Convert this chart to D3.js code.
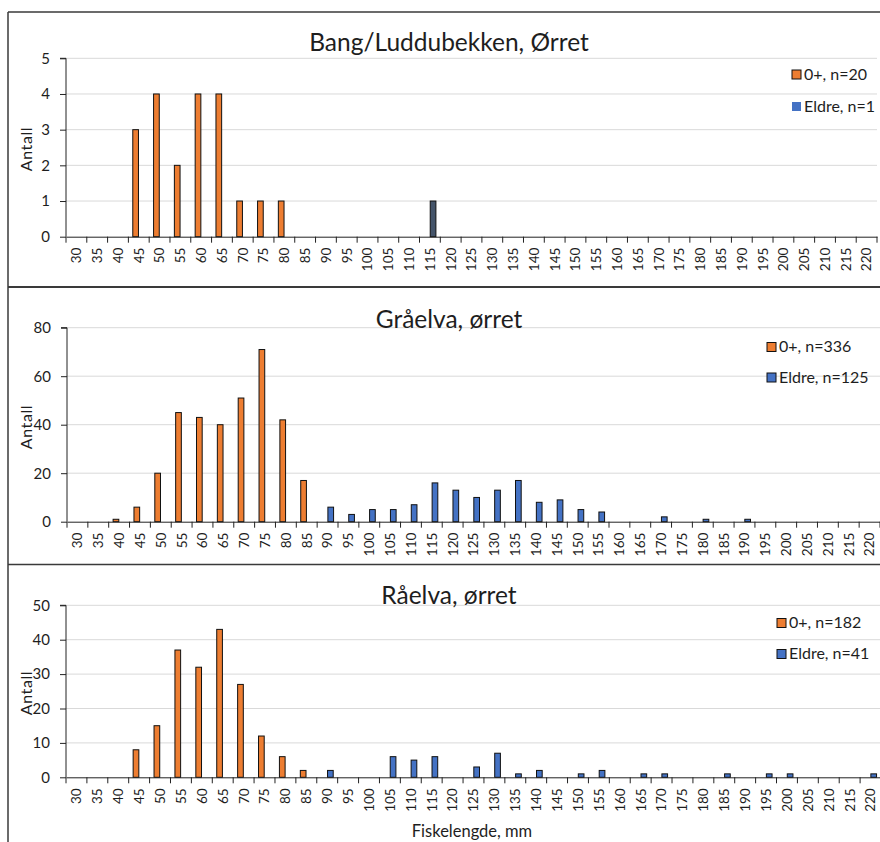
<!DOCTYPE html>
<html>
<head>
<meta charset="utf-8">
<script src="https://cdn.jsdelivr.net/npm/d3@7"></script>
<style>
  body { margin: 0; background: #fff; }
  svg { display: block; font-family: Lato, "Open Sans", "Liberation Sans", sans-serif; }
</style>
</head>
<body>
<svg id="chart" width="880" height="842"></svg>
<script>
// Length classes (mm) used as x categories in every panel
const lengthClasses = ["30","35","40","45","50","55","60","65","70","75","80","85","90","95",
  "100","105","110","115","120","125","130","135","140","145","150","155","160","165","170",
  "175","180","185","190","195","200","205","210","215","220"];
const seriesNames = ["0+", "Eldre"];

// Bang/Luddubekken
const bangYoung = [0,0,0,3,4,2,4,4,1,1,1,0,0,0,0,0,0,0,0,0,0,0,0,0,0,0,0,0,0,0,0,0,0,0,0,0,0,0,0];
const bangOlder = [0,0,0,0,0,0,0,0,0,0,0,0,0,0,0,0,0,1,0,0,0,0,0,0,0,0,0,0,0,0,0,0,0,0,0,0,0,0,0];
const bangLegend = ["0+, n=20", "Eldre, n=1"];
const bangTicks = [0,1,2,3,4,5];

// Gråelva
const graYoung = [0,0,1,6,20,45,43,40,51,71,42,17,0,0,0,0,0,0,0,0,0,0,0,0,0,0,0,0,0,0,0,0,0,0,0,0,0,0,0];
const graOlder = [0,0,0,0,0,0,0,0,0,0,0,0,6,3,5,5,7,16,13,10,13,17,8,9,5,4,0,0,2,0,1,0,1,0,0,0,0,0,0];
const graLegend = ["0+, n=336", "Eldre, n=125"];
const graTicks = [0,20,40,60,80];

// Råelva
const raYoung = [0,0,0,8,15,37,32,43,27,12,6,2,0,0,0,0,0,0,0,0,0,0,0,0,0,0,0,0,0,0,0,0,0,0,0,0,0,0,0];
const raOlder = [0,0,0,0,0,0,0,0,0,0,0,0,2,0,0,6,5,6,0,3,7,1,2,0,1,2,0,1,1,0,0,1,0,1,1,0,0,0,1];
const raLegend = ["0+, n=182", "Eldre, n=41"];
const raTicks = [0,10,20,30,40,50];

const ORANGE = "#ED7D31", BLUE = "#4472C4", SLATE = "#44546A";
const TEXT = "#1e1e1e";

const svg = d3.select("#chart");

// Panel frames
const frame = svg.append("g").attr("stroke", "#3a3a3a").attr("fill", "none");
frame.append("line").attr("x1", 8).attr("x2", 8).attr("y1", 12).attr("y2", 842).attr("stroke-width", 1.5);
frame.append("line").attr("x1", 8).attr("x2", 880).attr("y1", 12).attr("y2", 12).attr("stroke-width", 1.5);
frame.append("line").attr("x1", 8).attr("x2", 880).attr("y1", 287).attr("y2", 287).attr("stroke-width", 2.2);
frame.append("line").attr("x1", 8).attr("x2", 880).attr("y1", 564.5).attr("y2", 564.5).attr("stroke-width", 1.6);

const panels = [
  { title: "Bang/Luddubekken, Ørret", young: bangYoung, older: bangOlder, legend: bangLegend, ticks: bangTicks,
    x0: 66, x1: 877, yBottom: 236.7, yTop: 58.3, titleY: 51, yLabelY: 149,
    olderFill: SLATE, legendX: 792, legendY: [70, 102], olderLegendStroke: false },
  { title: "Gråelva, ørret", young: graYoung, older: graOlder, legend: graLegend, ticks: graTicks,
    x0: 67, x1: 880, yBottom: 521.7, yTop: 327.7, titleY: 328, yLabelY: 427,
    olderFill: BLUE, legendX: 767, legendY: [342.5, 373], olderLegendStroke: true },
  { title: "Råelva, ørret", young: raYoung, older: raOlder, legend: raLegend, ticks: raTicks,
    x0: 66, x1: 881, yBottom: 777.3, yTop: 605.3, titleY: 604, yLabelY: 693,
    olderFill: BLUE, legendX: 777, legendY: [618.5, 649.5], olderLegendStroke: true, xTitle: "Fiskelengde, mm" }
];

panels.forEach(p => {
  const g = svg.append("g");
  const x = d3.scaleBand().domain(lengthClasses).range([p.x0, p.x1]).padding(0);
  const sub = d3.scaleBand().domain(seriesNames).range([-6, 6]).paddingInner(0.1);
  const yMax = p.ticks[p.ticks.length - 1];
  const y = d3.scaleLinear().domain([0, yMax]).range([p.yBottom, p.yTop]);

  // gridlines
  g.append("g").selectAll("line").data(p.ticks.filter(t => t > 0)).join("line")
    .attr("x1", p.x0).attr("x2", p.x1)
    .attr("y1", d => y(d)).attr("y2", d => y(d))
    .attr("stroke", "#d9d9d9").attr("stroke-width", 1);

  // y axis
  const ya = g.append("g").attr("transform", `translate(${p.x0},0)`)
    .call(d3.axisLeft(y).tickValues(p.ticks).tickSize(6).tickPadding(10).tickFormat(d3.format("d")));
  ya.select(".domain").attr("stroke", "#222").attr("d", `M-6,${y(yMax)}H0V${y(0)}`);
  ya.selectAll(".tick line").attr("stroke", "#222");
  ya.selectAll(".tick text").attr("fill", TEXT).style("font-size", "15px").style("font-family", "Lato, sans-serif");

  // bars
  const rows = lengthClasses.map((c, i) => ({ c, vals: [
    { s: "0+", v: p.young[i], fill: ORANGE },
    { s: "Eldre", v: p.older[i], fill: p.olderFill }
  ]}));
  g.append("g").selectAll("g").data(rows).join("g")
    .attr("transform", d => `translate(${x(d.c) + x.bandwidth() / 2},0)`)
    .selectAll("rect").data(d => d.vals.filter(v => v.v > 0)).join("rect")
    .attr("x", d => sub(d.s)).attr("width", sub.bandwidth())
    .attr("y", d => y(d.v)).attr("height", d => y(0) - y(d.v))
    .attr("fill", d => d.fill).attr("stroke", "#111").attr("stroke-width", 1);

  // x axis: category labels centred, tick marks on category boundaries
  const xa = g.append("g").attr("transform", `translate(0,${y(0)})`)
    .call(d3.axisBottom(x).tickSize(0).tickSizeOuter(0));
  xa.select(".domain").attr("stroke", "#222");
  xa.selectAll(".tick text")
    .attr("transform", "rotate(-90)")
    .attr("text-anchor", "end")
    .attr("x", -11).attr("y", 0).attr("dy", "0.36em")
    .attr("fill", TEXT).style("font-size", "13.5px").style("font-family", "Lato, sans-serif");
  const bounds = lengthClasses.map(c => x(c)).concat([x.range()[1]]);
  xa.append("g").selectAll("line").data(bounds).join("line")
    .attr("x1", d => d).attr("x2", d => d).attr("y1", 0).attr("y2", 6)
    .attr("stroke", "#222");

  // title
  g.append("text").attr("x", 449).attr("y", p.titleY).attr("text-anchor", "middle")
    .attr("fill", TEXT).style("font-size", "24.5px").text(p.title);

  // y axis label
  g.append("text").attr("transform", `translate(32,${p.yLabelY}) rotate(-90)`)
    .attr("text-anchor", "middle").attr("fill", TEXT).style("font-size", "16px")
    .style("letter-spacing", "0.6px").text("Antall");

  // legend
  const lg = g.append("g");
  const legendFill = [ORANGE, BLUE];
  p.legend.forEach((label, i) => {
    const yy = p.legendY[i];
    const r = lg.append("rect").attr("x", p.legendX).attr("y", yy).attr("width", 9).attr("height", 9)
      .attr("fill", legendFill[i]);
    if (i === 0 || p.olderLegendStroke) r.attr("stroke", "#111").attr("stroke-width", 1);
    lg.append("text").attr("x", p.legendX + 12).attr("y", yy + 9.5)
      .attr("fill", TEXT).style("font-size", "16px").text(label);
  });

  if (p.xTitle) {
    g.append("text").attr("x", 472).attr("y", 837).attr("text-anchor", "middle")
      .attr("fill", TEXT).style("font-size", "16.5px").text(p.xTitle);
  }
});
</script>
</body>
</html>
